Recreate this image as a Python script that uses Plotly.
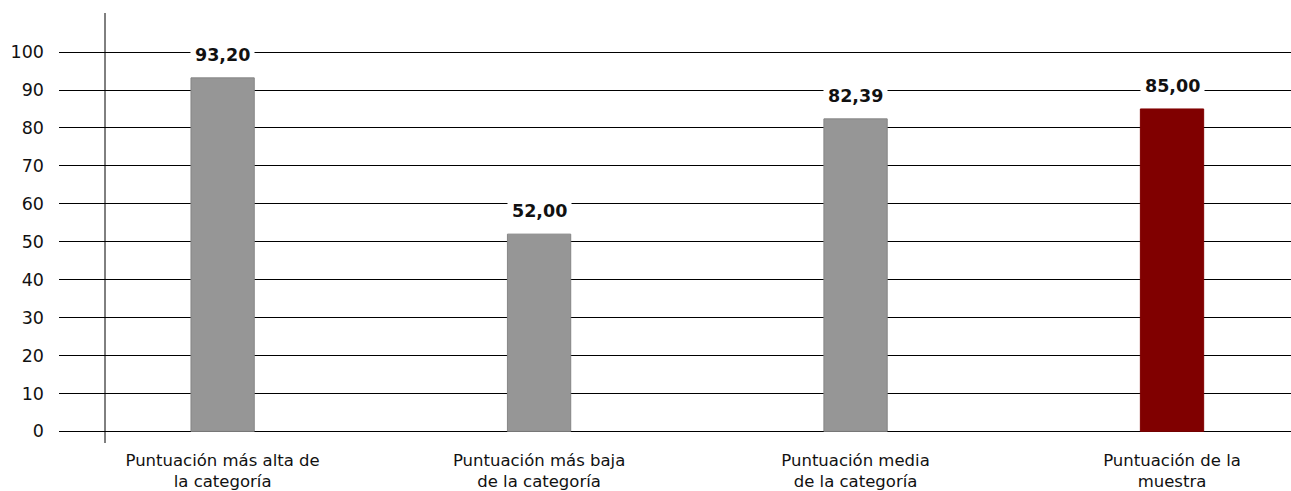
import plotly.graph_objects as go

categories = ["Puntuación más alta de<br>la categoría",
              "Puntuación más baja<br>de la categoría",
              "Puntuación media<br>de la categoría",
              "Puntuación de la<br>muestra"]
values = [93.20, 52.00, 82.39, 85.00]
bar_colors = ["#969696", "#969696", "#969696", "#800000"]
line_colors = ["#858585", "#858585", "#858585", "#800000"]
ytick_vals = [0, 10, 20, 30, 40, 50, 60, 70, 80, 90, 100]

FONT = "DejaVu Sans"
x_idx = list(range(len(categories)))

fig = go.Figure()
fig.add_trace(go.Bar(
    x=x_idx, y=values, width=0.2,
    marker=dict(color=bar_colors, line=dict(color=line_colors, width=1)),
    hoverinfo="skip", showlegend=False,
))

for i, v in zip(x_idx, values):
    fig.add_annotation(
        x=i, y=v, xref="x", yref="y",
        text="<b>" + f"{v:.2f}".replace(".", ",") + "</b>",
        showarrow=False, yanchor="bottom", yshift=8,
        bgcolor="white", borderpad=4,
        font=dict(family=FONT, size=17.5, color="#111111"),
    )

# vertical axis line (offset from plot left edge)
fig.add_shape(type="line", xref="paper", yref="paper",
              x0=46 / 1232, x1=46 / 1232, y0=0, y1=1,
              line=dict(color="black", width=1), layer="above")

fig.update_layout(
    width=1291, height=491,
    margin=dict(l=59, r=0, t=13, b=46),
    plot_bgcolor="white", paper_bgcolor="white",
    font=dict(family=FONT, size=16, color="#111111"),
    xaxis=dict(
        range=[-0.517, 3.376],
        tickvals=x_idx, ticktext=categories,
        showgrid=False, zeroline=False, showline=False,
        ticks="", tickfont=dict(family=FONT, size=16.5, color="#111111"),
        ticklabelstandoff=5,
    ),
    yaxis=dict(
        range=[-3.07, 110.3],
        tickvals=ytick_vals,
        showgrid=True, gridcolor="black", gridwidth=1,
        zeroline=False, showline=False, ticks="",
        tickfont=dict(family=FONT, size=17.5, color="#111111"),
        ticklabelstandoff=14,
    ),
)

fig.write_html(
    "out.html",
    config={"displayModeBar": False},
    post_script="document.body.style.margin='0';document.body.style.overflow='hidden';",
)
